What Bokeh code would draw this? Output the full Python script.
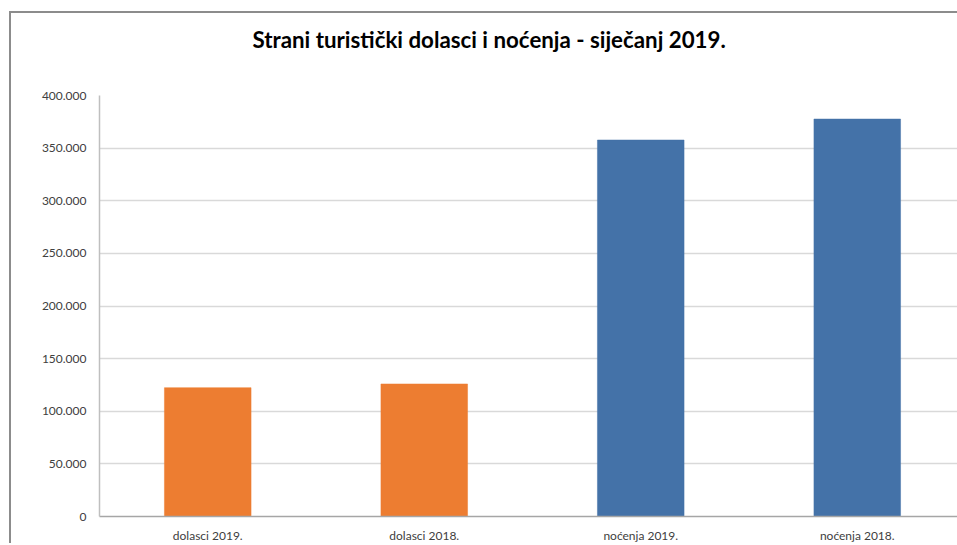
from bokeh.plotting import figure
from bokeh.models import FixedTicker, Range1d, Title
from bokeh.embed import file_html
from bokeh.resources import INLINE

categories = ["dolasci 2019.", "dolasci 2018.", "noćenja 2019.", "noćenja 2018."]
values = [122400, 125900, 357700, 377600]
bar_colors = ["#ED7D31", "#ED7D31", "#4472A8", "#4472A8"]
tick_values = [0, 50000, 100000, 150000, 200000, 250000, 300000, 350000, 400000]
tick_labels = ["0", "50.000", "100.000", "150.000", "200.000", "250.000", "300.000", "350.000", "400.000"]
title_text = "Strani turistički dolasci i noćenja - siječanj 2019."

FONT = "Lato"

p = figure(x_range=categories, y_range=Range1d(0, 400000), width=958, height=532,
           output_backend="svg", toolbar_location=None,
           min_border_left=88, min_border_right=4, min_border_bottom=26, min_border_top=82)
p.styles = {"border-top": "2px solid #8c8c8c", "border-left": "2px solid #8c8c8c",
            "margin-left": "9px", "margin-top": "11px"}

p.vbar(x=categories, top=values, width=0.40, fill_color=bar_colors,
       line_color=bar_colors, line_alpha=0.5)

p.title.text = title_text
p.title.align = "left"
p.title.vertical_align = "top"
p.title.text_font = FONT
p.title.text_font_size = "22.3px"
p.title.text_font_style = "bold"
p.title.text_color = "#000000"
p.title.standoff = 23
p.title.offset = 153

spacer = Title(text=" ", text_font_size="10px", standoff=16)
p.add_layout(spacer, "above")

p.outline_line_color = None
p.background_fill_color = "white"
p.border_fill_color = "white"

p.xgrid.grid_line_color = None
p.ygrid.grid_line_color = "#d9d9d9"
p.ygrid.grid_line_width = 1.5

p.yaxis.ticker = FixedTicker(ticks=tick_values)
p.yaxis.major_label_overrides = {v: l for v, l in zip(tick_values, tick_labels)}
p.yaxis.axis_line_color = "#bfbfbf"
p.yaxis.axis_line_width = 1.5
p.yaxis.major_tick_line_color = None
p.yaxis.minor_tick_line_color = None
p.yaxis.major_label_text_font = FONT
p.yaxis.major_label_text_font_size = "12px"
p.yaxis.major_label_text_color = "#404040"
p.yaxis.major_label_standoff = 7

p.xaxis.axis_line_color = "#a6a6a6"
p.xaxis.axis_line_width = 1.5
p.xaxis.major_tick_line_color = None
p.xaxis.minor_tick_line_color = None
p.xaxis.major_label_text_font = FONT
p.xaxis.major_label_text_font_size = "12px"
p.xaxis.major_label_text_color = "#404040"
p.xaxis.major_label_standoff = 5

open("out.html", "w").write(file_html(p, INLINE))
